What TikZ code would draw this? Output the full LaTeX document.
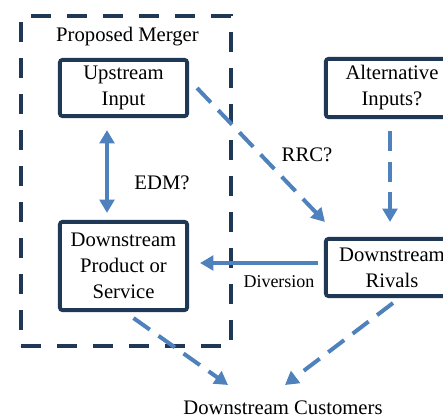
\documentclass[tikz,border=0pt]{standalone}
\usepackage{fontspec}
\setmainfont{Liberation Serif}
\usetikzlibrary{arrows.meta,calc}
\definecolor{navy}{RGB}{31,56,86}
\definecolor{flowblue}{RGB}{79,129,189}
\tikzset{
  txt/.style={font=\fontsize{15.5}{19.5}\selectfont, inner sep=0pt},
  smalltxt/.style={font=\fontsize{13.5}{16}\selectfont, inner sep=0pt},
  firmbox/.style={draw=navy, line width=2.9pt, rounded corners=2pt, align=center,
    txt, minimum width=#1},
  firmbox/.default=95.4pt,
  mergerbox/.style={draw=navy, line width=3pt, dash pattern=on 15pt off 12pt,
    minimum width=157.5pt, minimum height=247.5pt, inner sep=0pt},
  flow/.style={draw=flowblue, line width=3pt, -{Triangle[length=10pt,width=11pt]}},
  dashflow/.style={flow, dash pattern=on 15pt off 8pt},
  twoway/.style={draw=flowblue, line width=3pt,
    {Triangle[length=10pt,width=11pt]}-{Triangle[length=10pt,width=11pt]}},
}
\begin{document}
\begin{tikzpicture}[x=0.75pt,y=-0.75pt]
  \useasboundingbox (0,0) rectangle (443,420);

  % merging parties
  \node[mergerbox] (merger) at (126,181) {};
  \node[txt, anchor=base] (title) at (127.5,42) {Proposed Merger};
  \node[firmbox, minimum height=42.2pt] (up) at (123.5,88) {Upstream\\Input};
  \node[firmbox, minimum height=66.2pt] (dps) at (123.5,266) {Downstream\\Product or\\Service};

  % third parties
  \node[firmbox=99.2pt, minimum height=43.7pt] (alt) at (392,88) {Alternative\\Inputs?};
  \node[firmbox=99.2pt, minimum height=42.9pt] (riv) at (392,267.5) {Downstream\\Rivals};
  \node[txt] (cust) at (283,408) {Downstream Customers};

  % connections
  \draw[twoway] ($(up.south)+(-16.5,12)$) -- ($(dps.north)+(-16.5,-7)$);
  \node[txt, anchor=base] (edm) at (162,190) {EDM?};

  \draw[dashflow] ($(up.east)+(8,0)$) -- ($(riv.north west)+(1,-15)$);
  \node[txt, anchor=base] (rrc) at (307,162) {RRC?};

  \draw[dashflow] ($(alt.south)+(-2,12)$) -- ($(riv.north)+(-2,-15)$);

  \draw[flow] ($(riv.west)+(-6,-4.5)$) -- ($(dps.east)+(11,-3)$);
  \node[smalltxt, anchor=base] (div) at (279,288) {Diversion};

  \draw[dashflow] ($(dps.south)+(10,6)$) -- ($(cust.center)+(-55,-23)$);
  \draw[dashflow] ($(riv.south)+(1,5)$) -- ($(cust.center)+(2,-23)$);
\end{tikzpicture}
\end{document}
